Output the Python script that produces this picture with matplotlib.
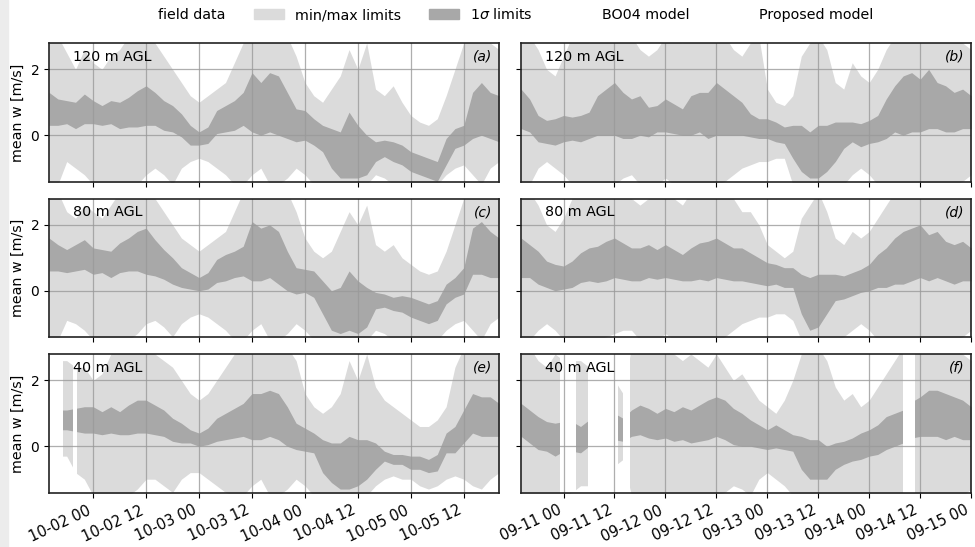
import datetime as dt

import matplotlib
matplotlib.use("Agg")
import matplotlib.dates as mdates
import matplotlib.pyplot as plt
import numpy as np
from matplotlib.lines import Line2D
from matplotlib.patches import Patch, Rectangle

# time grids (hours from panel start, 2 h resolution)
t_oct = np.arange(0, 103, 2)   # 10-01 14:00 .. 10-05 20:00
t_sep = np.arange(0, 107, 2)   # 09-10 14:00 .. 09-15 00:00
start_oct = dt.datetime(2019, 10, 1, 14)
start_sep = dt.datetime(2019, 9, 10, 14)
end_oct = dt.datetime(2019, 10, 5, 20)
end_sep = dt.datetime(2019, 9, 15, 0)

heights = ["120 m AGL", "80 m AGL", "40 m AGL"]
letters = ["a", "b", "c", "d", "e", "f"]

# ---- panel (a) 120 m, October
a_mean = [0.8, 0.7, 0.7, 0.6, 0.8, 0.7, 0.6, 0.7, 0.6, 0.7,
          0.8, 0.9, 0.8, 0.6, 0.5, 0.3, 0.0, -0.1, 0.0, 0.4,
          0.5, 0.6, 0.8, 1.0, 0.8, 1.0, 0.9, 0.6, 0.3, 0.3,
          0.1, -0.1, -0.4, -0.6, -0.3, -0.5, -0.6, -0.5, -0.4, -0.5,
          -0.6, -0.8, -0.9, -1.0, -1.1, -0.5, -0.1, 0.0, 0.6, 0.8,
          0.6, 0.5]
a_sd = [0.5, 0.4, 0.35, 0.4, 0.45, 0.35, 0.3, 0.35, 0.4, 0.45,
        0.55, 0.6, 0.5, 0.45, 0.4, 0.35, 0.3, 0.2, 0.25, 0.35,
        0.4, 0.45, 0.5, 0.9, 0.8, 0.9, 0.9, 0.7, 0.5, 0.45,
        0.4, 0.4, 0.6, 0.7, 1.0, 0.8, 0.6, 0.3, 0.25, 0.3,
        0.3, 0.3, 0.3, 0.3, 0.3, 0.4, 0.3, 0.3, 0.7, 0.8,
        0.7, 0.7]
a_max = [3, 3, 2.5, 2.0, 2.6, 2.2, 2.0, 2.4, 2.6, 3,
         3, 3, 2.8, 2.4, 2.0, 1.6, 1.2, 1.0, 1.2, 1.4,
         1.6, 2.2, 2.8, 3, 3, 3, 3, 3, 2.4, 1.6,
         1.2, 1.0, 1.4, 1.8, 2.6, 2.0, 2.8, 1.4, 1.2, 1.5,
         1.0, 0.6, 0.4, 0.3, 0.5, 1.2, 2.0, 2.8, 3, 3,
         2.8, 2.6]
a_min = [-1.5, -1.5, -0.8, -1.0, -1.2, -1.5, -1.5, -1.5, -1.5, -1.5,
         -1.5, -1.2, -1.0, -1.2, -1.5, -1.0, -0.8, -0.7, -0.8, -1.0,
         -1.2, -1.5, -1.5, -1.2, -1.0, -1.5, -1.5, -1.3, -1.0, -1.2,
         -1.5, -1.5, -1.5, -1.5, -1.5, -1.5, -1.5, -1.2, -1.3, -1.5,
         -1.5, -1.5, -1.5, -1.5, -1.5, -1.2, -1.0, -0.9, -1.2, -1.5,
         -1.0, -0.8]
a_gaps = []

# ---- panel (c) 80 m, October
c_mean = [1.1, 1.0, 0.9, 1.0, 1.1, 0.9, 0.9, 0.8, 1.0, 1.1,
          1.2, 1.2, 1.0, 0.8, 0.6, 0.4, 0.3, 0.2, 0.3, 0.6,
          0.7, 0.8, 0.9, 1.2, 1.1, 1.2, 1.0, 0.6, 0.3, 0.3,
          0.2, -0.2, -0.6, -0.6, -0.3, -0.5, -0.5, -0.3, -0.3, -0.4,
          -0.4, -0.5, -0.6, -0.7, -0.6, -0.1, 0.1, 0.3, 1.2, 1.3,
          1.1, 1.0]
c_sd = [0.5, 0.4, 0.35, 0.4, 0.45, 0.4, 0.35, 0.4, 0.45, 0.5,
        0.6, 0.7, 0.55, 0.45, 0.4, 0.3, 0.25, 0.2, 0.25, 0.35,
        0.4, 0.4, 0.45, 0.9, 0.8, 0.8, 0.8, 0.6, 0.4, 0.35,
        0.4, 0.5, 0.6, 0.7, 0.9, 0.8, 0.6, 0.25, 0.2, 0.2,
        0.25, 0.3, 0.3, 0.3, 0.3, 0.3, 0.3, 0.4, 0.7, 0.8,
        0.7, 0.6]
c_max = [3, 3, 2.4, 2.2, 2.6, 2.4, 2.2, 2.6, 3, 3,
         3, 3, 2.8, 2.4, 2.0, 1.6, 1.4, 1.2, 1.4, 1.6,
         1.8, 2.4, 3, 3, 3, 3, 3, 3, 2.4, 1.6,
         1.2, 1.0, 1.2, 1.8, 2.4, 2.0, 2.6, 1.4, 1.2, 1.4,
         1.0, 0.8, 0.6, 0.5, 0.6, 1.2, 2.0, 2.8, 3, 3,
         3, 2.8]
c_min = [-1.5, -1.5, -0.9, -1.0, -1.2, -1.5, -1.5, -1.5, -1.5, -1.5,
         -1.3, -1.0, -0.9, -1.1, -1.4, -1.0, -0.8, -0.7, -0.8, -1.0,
         -1.2, -1.5, -1.5, -1.2, -1.0, -1.5, -1.5, -1.3, -1.0, -1.2,
         -1.5, -1.5, -1.5, -1.5, -1.5, -1.5, -1.5, -1.2, -1.3, -1.5,
         -1.5, -1.5, -1.5, -1.5, -1.5, -1.2, -1.0, -0.9, -1.2, -1.5,
         -1.0, -0.8]
c_gaps = []

# ---- panel (e) 40 m, October
e_mean = [0.8, 0.8, 0.8, 0.8, 0.8, 0.8, 0.7, 0.8, 0.7, 0.8,
          0.9, 0.9, 0.8, 0.7, 0.5, 0.4, 0.3, 0.2, 0.3, 0.5,
          0.6, 0.7, 0.8, 0.9, 0.9, 1.0, 0.9, 0.6, 0.3, 0.2,
          0.1, -0.3, -0.5, -0.6, -0.5, -0.5, -0.4, -0.3, -0.3, -0.4,
          -0.4, -0.5, -0.5, -0.6, -0.5, 0.1, 0.2, 0.6, 1.0, 0.9,
          0.9, 0.8]
e_sd = [0.3, 0.3, 0.3, 0.35, 0.4, 0.4, 0.35, 0.4, 0.35, 0.45,
        0.5, 0.5, 0.45, 0.4, 0.35, 0.3, 0.2, 0.2, 0.25, 0.35,
        0.4, 0.45, 0.5, 0.7, 0.7, 0.7, 0.7, 0.6, 0.4, 0.35,
        0.3, 0.5, 0.6, 0.7, 0.8, 0.7, 0.6, 0.4, 0.15, 0.15,
        0.15, 0.2, 0.2, 0.2, 0.25, 0.3, 0.4, 0.5, 0.6, 0.6,
        0.6, 0.5]
e_max = [2.6, 2.6, 2.6, 2.4, 2.4, 2.0, 2.2, 2.8, 3, 3,
         3, 3, 2.8, 2.6, 2.4, 2.0, 1.6, 1.4, 1.6, 2.0,
         2.4, 2.8, 3, 3, 3, 3, 3, 3, 2.6, 1.6,
         1.2, 1.0, 1.2, 1.6, 2.6, 2.0, 2.8, 1.8, 1.4, 1.2,
         1.0, 0.8, 0.6, 0.6, 0.8, 1.2, 2.4, 3, 3, 3,
         3, 2.8]
e_min = [-0.3, -0.3, -0.3, -0.8, -1.0, -1.5, -1.5, -1.5, -1.5, -1.5,
         -1.3, -1.0, -1.0, -1.2, -1.4, -1.0, -0.8, -0.8, -1.0, -1.2,
         -1.4, -1.5, -1.5, -1.2, -1.0, -1.5, -1.5, -1.3, -1.0, -1.2,
         -1.5, -1.5, -1.5, -1.5, -1.5, -1.5, -1.5, -1.2, -1.0, -0.9,
         -1.0, -1.0, -1.2, -1.3, -1.2, -1.0, -0.9, -1.0, -1.2, -1.3,
         -1.0, -0.8]
e_gaps = [(0.0, 3.2), (5.4, 6.3)]          # hours without data

# ---- panel (b) 120 m, September
b_mean = [0.8, 0.6, 0.2, 0.1, 0.1, 0.2, 0.2, 0.2, 0.3, 0.6,
          0.7, 0.8, 0.6, 0.5, 0.6, 0.4, 0.5, 0.6, 0.5, 0.4,
          0.6, 0.7, 0.6, 0.8, 0.7, 0.6, 0.5, 0.3, 0.2, 0.2,
          0.1, 0.0, -0.2, -0.4, -0.6, -0.5, -0.4, -0.2, 0.0, 0.1,
          0.0, 0.1, 0.2, 0.5, 0.8, 0.9, 1.0, 0.9, 1.1, 0.9,
          0.8, 0.7, 0.8, 0.7]
b_sd = [0.6, 0.5, 0.4, 0.35, 0.4, 0.4, 0.35, 0.4, 0.4, 0.6,
        0.7, 0.8, 0.7, 0.6, 0.6, 0.45, 0.4, 0.5, 0.45, 0.4,
        0.6, 0.6, 0.7, 0.8, 0.7, 0.6, 0.5, 0.35, 0.3, 0.3,
        0.3, 0.25, 0.5, 0.7, 0.7, 0.8, 0.7, 0.6, 0.4, 0.3,
        0.35, 0.35, 0.4, 0.6, 0.7, 0.9, 0.9, 0.8, 0.9, 0.7,
        0.7, 0.6, 0.6, 0.5]
b_max = [3, 3, 2.6, 2.0, 1.8, 2.4, 3, 3, 2.8, 3,
         3, 3, 3, 3, 2.6, 2.4, 2.6, 3, 3, 2.8,
         3, 3, 3, 3, 3, 2.6, 2.4, 2.8, 3, 1.4,
         1.0, 0.9, 1.2, 2.4, 2.8, 3, 2.6, 1.6, 1.4, 2.2,
         1.8, 1.6, 2.0, 2.6, 3, 3, 3, 3, 3, 3,
         3, 3, 2.8, 2.6]
b_min = [-1.5, -1.5, -1.0, -0.8, -1.0, -1.2, -1.5, -1.5, -1.5, -1.5,
         -1.5, -1.5, -1.3, -1.2, -1.5, -1.5, -1.5, -1.3, -1.5, -1.5,
         -1.5, -1.5, -1.5, -1.5, -1.4, -1.2, -1.0, -0.9, -0.8, -0.8,
         -0.7, -0.7, -1.5, -1.5, -1.5, -1.5, -1.5, -1.5, -1.5, -1.2,
         -1.0, -1.2, -1.5, -1.5, -1.5, -1.5, -1.5, -1.5, -1.5, -1.5,
         -1.5, -1.5, -1.4, -1.2]
b_gaps = []

# ---- panel (d) 80 m, September
d_mean = [1.0, 0.9, 0.7, 0.5, 0.4, 0.4, 0.5, 0.7, 0.8, 0.8,
          0.9, 1.0, 0.9, 0.8, 0.8, 0.9, 0.8, 0.9, 0.8, 0.7,
          0.8, 0.9, 0.9, 1.0, 0.9, 0.8, 0.8, 0.7, 0.6, 0.5,
          0.5, 0.4, 0.4, -0.1, -0.4, -0.3, -0.1, 0.1, 0.1, 0.2,
          0.3, 0.4, 0.6, 0.7, 0.9, 1.0, 1.1, 1.2, 1.0, 1.1,
          0.9, 0.8, 0.9, 0.8]
d_sd = [0.6, 0.5, 0.5, 0.4, 0.4, 0.35, 0.4, 0.45, 0.5, 0.55,
        0.6, 0.6, 0.55, 0.5, 0.5, 0.5, 0.45, 0.5, 0.45, 0.4,
        0.5, 0.55, 0.6, 0.6, 0.55, 0.5, 0.5, 0.45, 0.4, 0.35,
        0.3, 0.3, 0.3, 0.6, 0.8, 0.8, 0.6, 0.4, 0.35, 0.35,
        0.35, 0.4, 0.5, 0.6, 0.7, 0.8, 0.8, 0.8, 0.7, 0.7,
        0.6, 0.6, 0.6, 0.5]
d_max = [3, 3, 2.6, 2.0, 1.8, 2.2, 2.8, 3, 3, 3,
         3, 3, 3, 2.8, 2.6, 2.8, 3, 3, 2.8, 2.6,
         3, 3, 3, 3, 3, 2.8, 2.4, 2.4, 2.0, 1.4,
         1.2, 1.0, 1.2, 2.2, 2.6, 3, 2.4, 1.6, 1.4, 1.8,
         1.6, 1.8, 2.2, 2.6, 3, 3, 3, 3, 3, 3,
         3, 3, 3, 2.8]
d_min = [-1.5, -1.5, -1.2, -1.0, -1.2, -1.5, -1.5, -1.5, -1.5, -1.5,
         -1.4, -1.3, -1.2, -1.2, -1.5, -1.5, -1.5, -1.3, -1.5, -1.5,
         -1.5, -1.5, -1.5, -1.5, -1.4, -1.2, -1.0, -0.9, -0.8, -0.8,
         -0.7, -0.7, -0.9, -1.5, -1.5, -1.5, -1.5, -1.5, -1.4, -1.2,
         -1.0, -1.2, -1.5, -1.5, -1.5, -1.5, -1.5, -1.5, -1.5, -1.5,
         -1.5, -1.5, -1.4, -1.2]
d_gaps = []

# ---- panel (f) 40 m, September
f_mean = [0.8, 0.6, 0.4, 0.3, 0.2, 0.3, 0.3, 0.2, 0.4, 0.5,
          0.6, 0.6, 0.5, 0.7, 0.8, 0.7, 0.6, 0.7, 0.6, 0.7,
          0.6, 0.7, 0.8, 0.9, 0.8, 0.6, 0.5, 0.4, 0.3, 0.2,
          0.3, 0.2, 0.1, -0.2, -0.4, -0.4, -0.5, -0.3, -0.2, -0.1,
          0.0, 0.1, 0.2, 0.4, 0.5, 0.6, 0.8, 0.9, 1.0, 1.0,
          0.9, 0.9, 0.8, 0.7]
f_sd = [0.5, 0.5, 0.5, 0.45, 0.5, 0.45, 0.45, 0.4, 0.4, 0.4,
        0.4, 0.4, 0.35, 0.4, 0.45, 0.45, 0.4, 0.45, 0.45, 0.5,
        0.5, 0.55, 0.6, 0.6, 0.6, 0.55, 0.5, 0.4, 0.35, 0.3,
        0.35, 0.3, 0.25, 0.5, 0.6, 0.6, 0.5, 0.4, 0.35, 0.35,
        0.4, 0.4, 0.45, 0.5, 0.5, 0.5, 0.55, 0.6, 0.7, 0.7,
        0.7, 0.6, 0.6, 0.5]
f_max = [3, 3, 2.6, 2.4, 2.8, 2.6, 2.6, 2.6, 2.4, 2.4,
         2.4, 2.0, 1.6, 3, 3, 3, 3, 3, 2.8, 2.6,
         2.8, 2.6, 2.4, 2.8, 2.4, 2.0, 2.2, 1.8, 1.4, 1.2,
         1.0, 1.4, 2.0, 2.8, 3, 3, 2.6, 1.8, 1.4, 1.6,
         1.2, 1.4, 1.8, 2.2, 2.6, 3, 3, 3, 3, 3,
         3, 3, 2.8, 2.6]
f_min = [-1.5, -1.5, -1.5, -1.5, -1.5, -1.5, -1.4, -1.2, -1.2, -1.0,
         -0.8, -0.6, -0.4, -1.5, -1.5, -1.5, -1.5, -1.5, -1.5, -1.5,
         -1.5, -1.5, -1.5, -1.5, -1.4, -1.2, -1.3, -1.5, -1.0, -0.8,
         -1.0, -1.2, -1.5, -1.5, -1.5, -1.5, -1.5, -1.5, -1.5, -1.5,
         -1.5, -1.5, -1.5, -1.5, -1.5, -1.5, -1.5, -1.5, -1.5, -1.5,
         -1.5, -1.5, -1.5, -1.3]
f_gaps = [(9.1, 13.0), (15.8, 22.9), (24.0, 25.6), (90.0, 92.7)]

LIGHT = "#dbdbdb"
DARK = "#a8a8a8"

panels = [
    (a_mean, a_sd, a_min, a_max, a_gaps), (b_mean, b_sd, b_min, b_max, b_gaps),
    (c_mean, c_sd, c_min, c_max, c_gaps), (d_mean, d_sd, d_min, d_max, d_gaps),
    (e_mean, e_sd, e_min, e_max, e_gaps), (f_mean, f_sd, f_min, f_max, f_gaps),
]

plt.rcParams["font.family"] = ["DejaVu Sans"]
plt.rcParams["font.size"] = 10

fig, axes = plt.subplots(3, 2, figsize=(9.75, 5.47), dpi=100)
fig.subplots_adjust(left=0.0503, right=0.996, top=0.9214, bottom=0.0987,
                    wspace=0.049, hspace=0.119)
fig.patches.append(Rectangle((0, 0), 0.008, 1, transform=fig.transFigure,
                             color="#ececec", zorder=-5))

for i, ax in enumerate(axes.flat):
    col = i % 2
    row = i // 2
    mean, sd, mn, mx = (np.asarray(v, float) for v in panels[i][:4])
    gaps = panels[i][4]
    t = t_oct if col == 0 else t_sep
    start = start_oct if col == 0 else start_sep
    x = mdates.date2num(start) + t / 24.0
    ax.fill_between(x, mn, mx, color=LIGHT, lw=0, zorder=1)
    ax.fill_between(x, mean - sd, mean + sd, color=DARK, lw=0, zorder=2)
    for g0, g1 in gaps:
        ax.axvspan(mdates.date2num(start) + g0 / 24.0,
                   mdates.date2num(start) + g1 / 24.0,
                   color="white", lw=0, zorder=2.5)

    ax.set_ylim(-1.42, 2.8)
    ax.set_yticks([0, 2])
    if col == 0:
        ax.set_xlim(start_oct, end_oct)
        ax.set_ylabel("mean w [m/s]", fontsize=10.3)
    else:
        ax.set_xlim(start_sep, end_sep)
        ax.set_yticklabels([])
    ax.xaxis.set_major_locator(mdates.HourLocator(byhour=[0, 12]))
    ax.xaxis.set_major_formatter(mdates.DateFormatter("%m-%d %H"))
    if row < 2:
        ax.set_xticklabels([])
    else:
        for lab in ax.get_xticklabels():
            lab.set_rotation(25)
            lab.set_ha("right")
            lab.set_fontsize(10.5)
    ax.grid(True, color="#9a9a9a", lw=0.9, alpha=0.8, zorder=3)
    ax.set_axisbelow(False)
    for sp in ax.spines.values():
        sp.set_linewidth(1.2)
        sp.set_color("#222222")
        sp.set_zorder(5)
    ax.text(0.053, 0.9, heights[row], transform=ax.transAxes, va="center",
            ha="left", fontsize=10.3, zorder=6)
    ax.text(0.985, 0.9, f"({letters[i]})", transform=ax.transAxes,
            va="center", ha="right", fontsize=10, style="italic", zorder=6)

handles = [Line2D([], [], color="none"), Patch(color=LIGHT), Patch(color=DARK),
           Line2D([], [], color="none"), Line2D([], [], color="none")]
labels = ["field data", "min/max limits", r"1$\sigma$ limits", "BO04 model",
          "Proposed model"]
fig.legend(handles, labels, loc="upper center", bbox_to_anchor=(0.508, 1.01),
           ncol=5, frameon=False, fontsize=10.3, handlelength=2.1,
           columnspacing=2.0, handletextpad=0.75)

fig.savefig("out.png", dpi=100, facecolor="white")
